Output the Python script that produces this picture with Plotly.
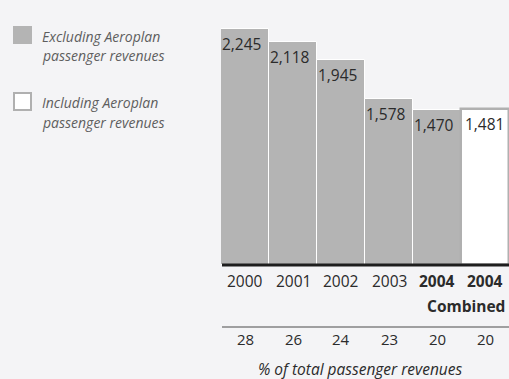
import plotly.graph_objects as go

# Passenger revenue data (C$ millions)
years = ["2000", "2001", "2002", "2003", "2004", "2004 Combined"]
year_labels = ["2000", "2001", "2002", "2003", "<b>2004</b>", "<b>2004</b>"]
revenues = [2245, 2118, 1945, 1578, 1470, 1481]
pct_of_total = [28, 26, 24, 23, 20, 20]
legend_items = [("Excluding Aeroplan", "passenger revenues"),
                ("Including Aeroplan", "passenger revenues")]

W, H = 509, 379
BG = "#f4f4f6"
GREY = "#b4b4b4"
TEXT = "#2b2b2b"
SOFT = "#5e5e5e"
FONT = "Open Sans"


def px(x):
    return x / W


def py(y):
    return 1 - y / H


fill = [GREY] * 5 + ["#ffffff"]
edge = ["#ffffff"] * 5 + ["#b0b0b0"]
edge_w = [1] * 5 + [2.5]
idx = list(range(len(years)))

fig = go.Figure(go.Bar(
    x=idx, y=revenues,
    marker=dict(color=fill, line=dict(color=edge, width=edge_w)),
    hoverinfo="skip",
))

annotations = []
# value labels, top-left inside each bar
for i, v in zip(idx, revenues):
    annotations.append(dict(
        x=i, y=v, xref="x", yref="y", text=f"{v:,}",
        xanchor="left", yanchor="top", xshift=-25 if i < 5 else -22, yshift=-2,
        showarrow=False, font=dict(family=FONT, size=15.5, color=TEXT),
    ))

# category labels under the baseline
for i, lab in zip(idx, year_labels):
    annotations.append(dict(
        x=i, y=py(281), xref="x", yref="paper", text=lab,
        xanchor="center", yanchor="middle", showarrow=False,
        font=dict(family=FONT, size=15.5, color=TEXT),
    ))
annotations.append(dict(
    x=idx[-1], y=py(306), xref="x", yref="paper", text="<b>Combined</b>",
    xanchor="right", yanchor="middle", xshift=22, showarrow=False,
    font=dict(family=FONT, size=15.5, color=TEXT),
))

# share of total passenger revenues
for i, p in zip(idx, pct_of_total):
    annotations.append(dict(
        x=i, y=py(339), xref="x", yref="paper", text=str(p),
        xanchor="center", yanchor="middle", showarrow=False,
        font=dict(family=FONT, size=15, color=TEXT),
    ))
annotations.append(dict(
    x=px(360), y=py(369), xref="paper", yref="paper",
    text="<i>% of total passenger revenues</i>",
    xanchor="center", yanchor="middle", showarrow=False,
    font=dict(family=FONT, size=15.5, color=TEXT),
))

# legend
for (line1, line2), yc in zip(legend_items, [36, 102]):
    for dy, txt in ((0, line1), (20, line2)):
        annotations.append(dict(
            x=px(40), y=py(yc + dy), xref="paper", yref="paper",
            text=f"<i>{txt}</i>", align="left",
            xanchor="left", yanchor="middle", showarrow=False,
            font=dict(family=FONT, size=14, color=SOFT),
        ))

shapes = [
    dict(type="rect", xref="paper", yref="paper",
         x0=px(13), x1=px(32), y0=py(44), y1=py(26),
         fillcolor=GREY, line=dict(width=0)),
    dict(type="rect", xref="paper", yref="paper",
         x0=px(14), x1=px(31), y0=py(110), y1=py(93),
         fillcolor="#ffffff", line=dict(color="#b0b0b0", width=2)),
    # baseline
    dict(type="line", xref="paper", yref="paper",
         x0=px(222), x1=1, y0=py(265), y1=py(265),
         line=dict(color="#1e1e1e", width=3), layer="above"),
    # rule above the percentages
    dict(type="line", xref="paper", yref="paper",
         x0=px(222), x1=1, y0=py(327), y1=py(327),
         line=dict(color="#4a4a4a", width=1)),
]

fig.update_layout(
    width=W, height=H,
    margin=dict(l=0, r=0, t=0, b=0),
    paper_bgcolor=BG, plot_bgcolor=BG,
    bargap=0, showlegend=False,
    xaxis=dict(domain=[px(221), 1], range=[-0.5, 5.5], visible=False,
               fixedrange=True),
    yaxis=dict(domain=[py(265), 1], range=[0, 2520], visible=False,
               fixedrange=True),
    annotations=annotations, shapes=shapes,
)

fig.write_html("out.html", config={"displayModeBar": False})
